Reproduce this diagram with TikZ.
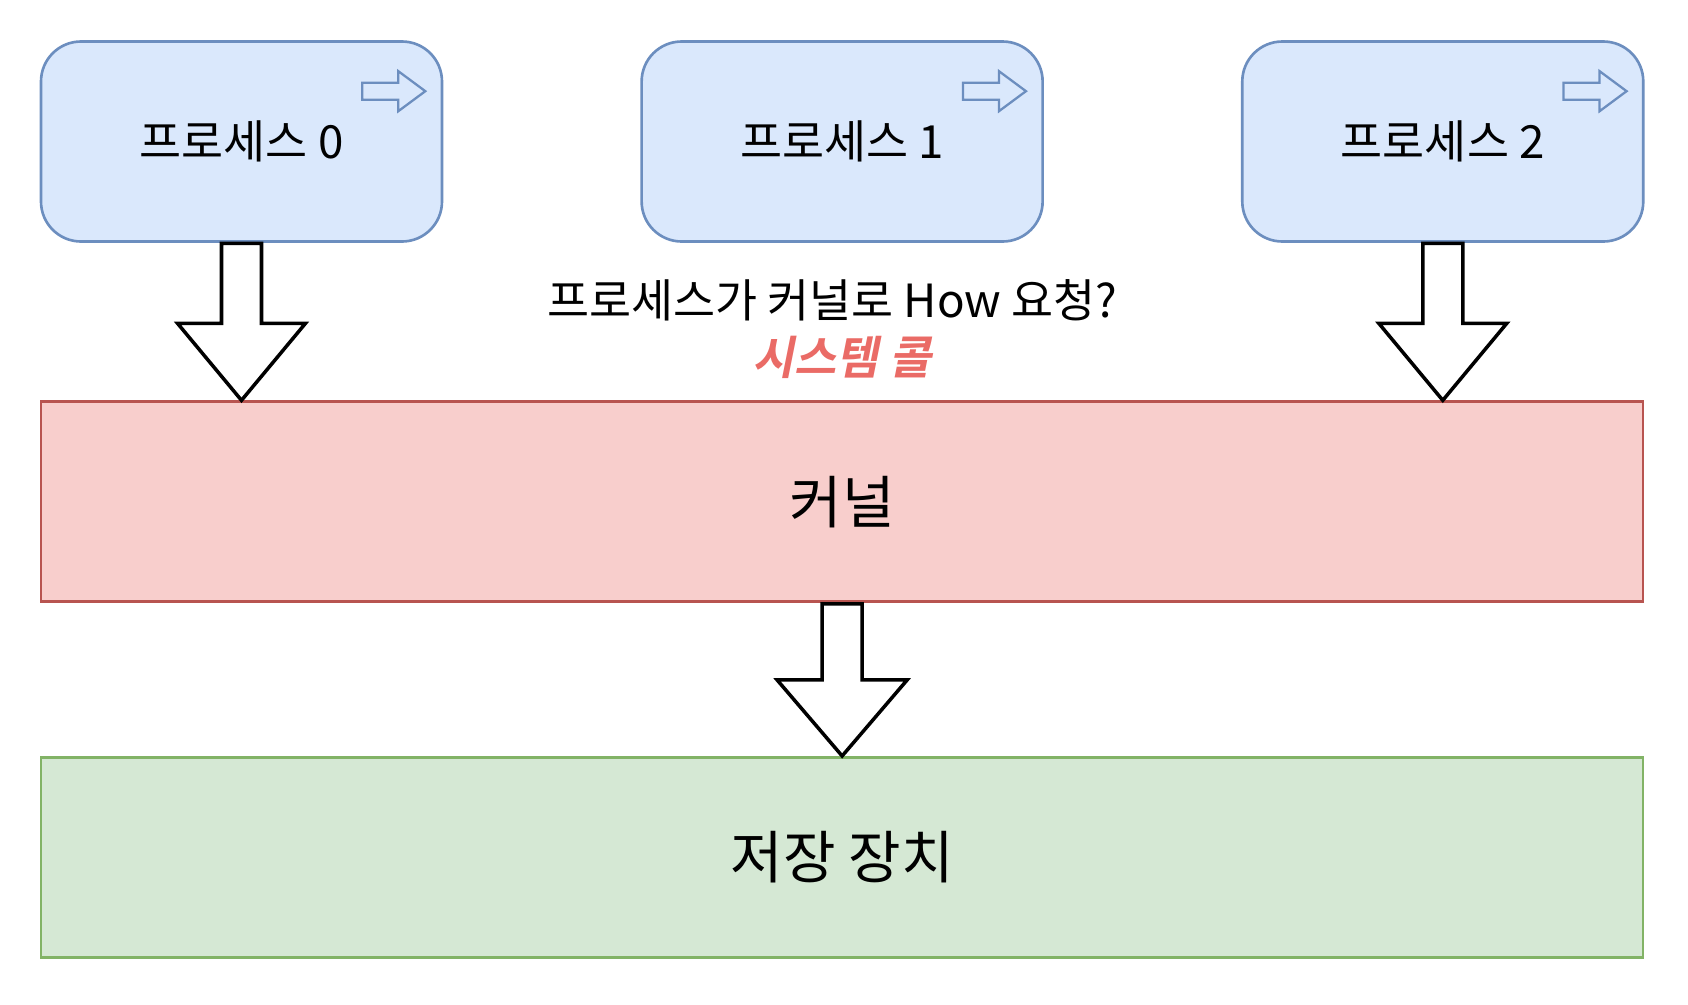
\documentclass[tikz,border=0pt]{standalone}
\usepackage{fontspec}
\setmainfont{Noto Sans CJK KR}[
  BoldFont={Noto Sans CJK KR Bold},
  ItalicFont={Noto Sans CJK KR},
  ItalicFeatures={FakeSlant=0.2},
  BoldItalicFont={Noto Sans CJK KR Bold},
  BoldItalicFeatures={FakeSlant=0.2}]
\usepackage{tikz}
\usetikzlibrary{arrows.meta, positioning, calc}
\usepackage{xcolor}
\definecolor{procfill}{HTML}{DAE8FC}
\definecolor{procline}{HTML}{6C8EBF}
\definecolor{kernfill}{HTML}{F8CECC}
\definecolor{kernline}{HTML}{B85450}
\definecolor{storfill}{HTML}{D5E8D4}
\definecolor{storline}{HTML}{82B366}
\definecolor{callred}{HTML}{EA6B66}

\begin{document}
\begin{tikzpicture}[
  proc/.style={rectangle, draw=procline, fill=procfill, line width=1.5pt, rounded corners=0.8cm, minimum width=8.02cm, minimum height=4cm, font=\fontsize{26}{31}\selectfont},
  layer/.style={rectangle, line width=1.5pt, minimum width=32.04cm, minimum height=4cm, font=\fontsize{32.5}{39}\selectfont},
  bigarr/.style={draw=black, fill=white, line width=2pt, line join=miter},
  icon/.style={draw=procline, fill=procfill, line width=1.3pt},
  asktext/.style={font=\fontsize{26}{31}\selectfont},
  node distance=3.15cm and 3.94cm
]
\useasboundingbox (0,0) rectangle (33.76,-20.08);

% Processes
\node[proc] (p0) at (4.83,-2.83) {프로세스 0};
\node[proc, right=of p0] (p1) {프로세스 1};
\node[proc, right=of p1] (p2) {프로세스 2};

% Kernel and storage layers
\node[layer, draw=kernline, fill=kernfill, below=of p1] (kern) {커널};
\node[layer, draw=storline, fill=storfill, below=3.06cm of kern] (stor) {저장 장치};

% Question text
\node[asktext] (ask) at ([xshift=-0.2cm, yshift=-1.15cm]p1.south) {프로세스가 커널로 How 요청?};
\node[asktext, font=\fontsize{26}{31}\selectfont\bfseries\itshape, text=callred] (call) at ([yshift=-2.3cm]p1.south) {시스템 콜};

% Small arrow icons in the process boxes
\draw[icon] ([shift={(-1.62,-0.85)}]p0.north east) -- ++(0.72,0) -- ++(0,0.23) -- ++(0.54,-0.4) -- ++(-0.54,-0.4) -- ++(0,0.23) -- ++(-0.72,0) -- cycle;
\draw[icon] ([shift={(-1.62,-0.85)}]p1.north east) -- ++(0.72,0) -- ++(0,0.23) -- ++(0.54,-0.4) -- ++(-0.54,-0.4) -- ++(0,0.23) -- ++(-0.72,0) -- cycle;
\draw[icon] ([shift={(-1.62,-0.85)}]p2.north east) -- ++(0.72,0) -- ++(0,0.23) -- ++(0.54,-0.4) -- ++(-0.54,-0.4) -- ++(0,0.23) -- ++(-0.72,0) -- cycle;

% Block arrows: processes to kernel
\draw[bigarr] (p0.south |- kern.north) -- ++(-1.28,1.54) -- ++(0.88,0) -- ++(0,1.6) -- ++(0.8,0) -- ++(0,-1.6) -- ++(0.88,0) -- cycle;
\draw[bigarr] (p2.south |- kern.north) -- ++(-1.28,1.54) -- ++(0.88,0) -- ++(0,1.6) -- ++(0.8,0) -- ++(0,-1.6) -- ++(0.88,0) -- cycle;

% Block arrow: kernel to storage
\draw[bigarr] (stor.north) -- ++(-1.3,1.52) -- ++(0.9,0) -- ++(0,1.52) -- ++(0.8,0) -- ++(0,-1.52) -- ++(0.9,0) -- cycle;

\end{tikzpicture}
\end{document}
